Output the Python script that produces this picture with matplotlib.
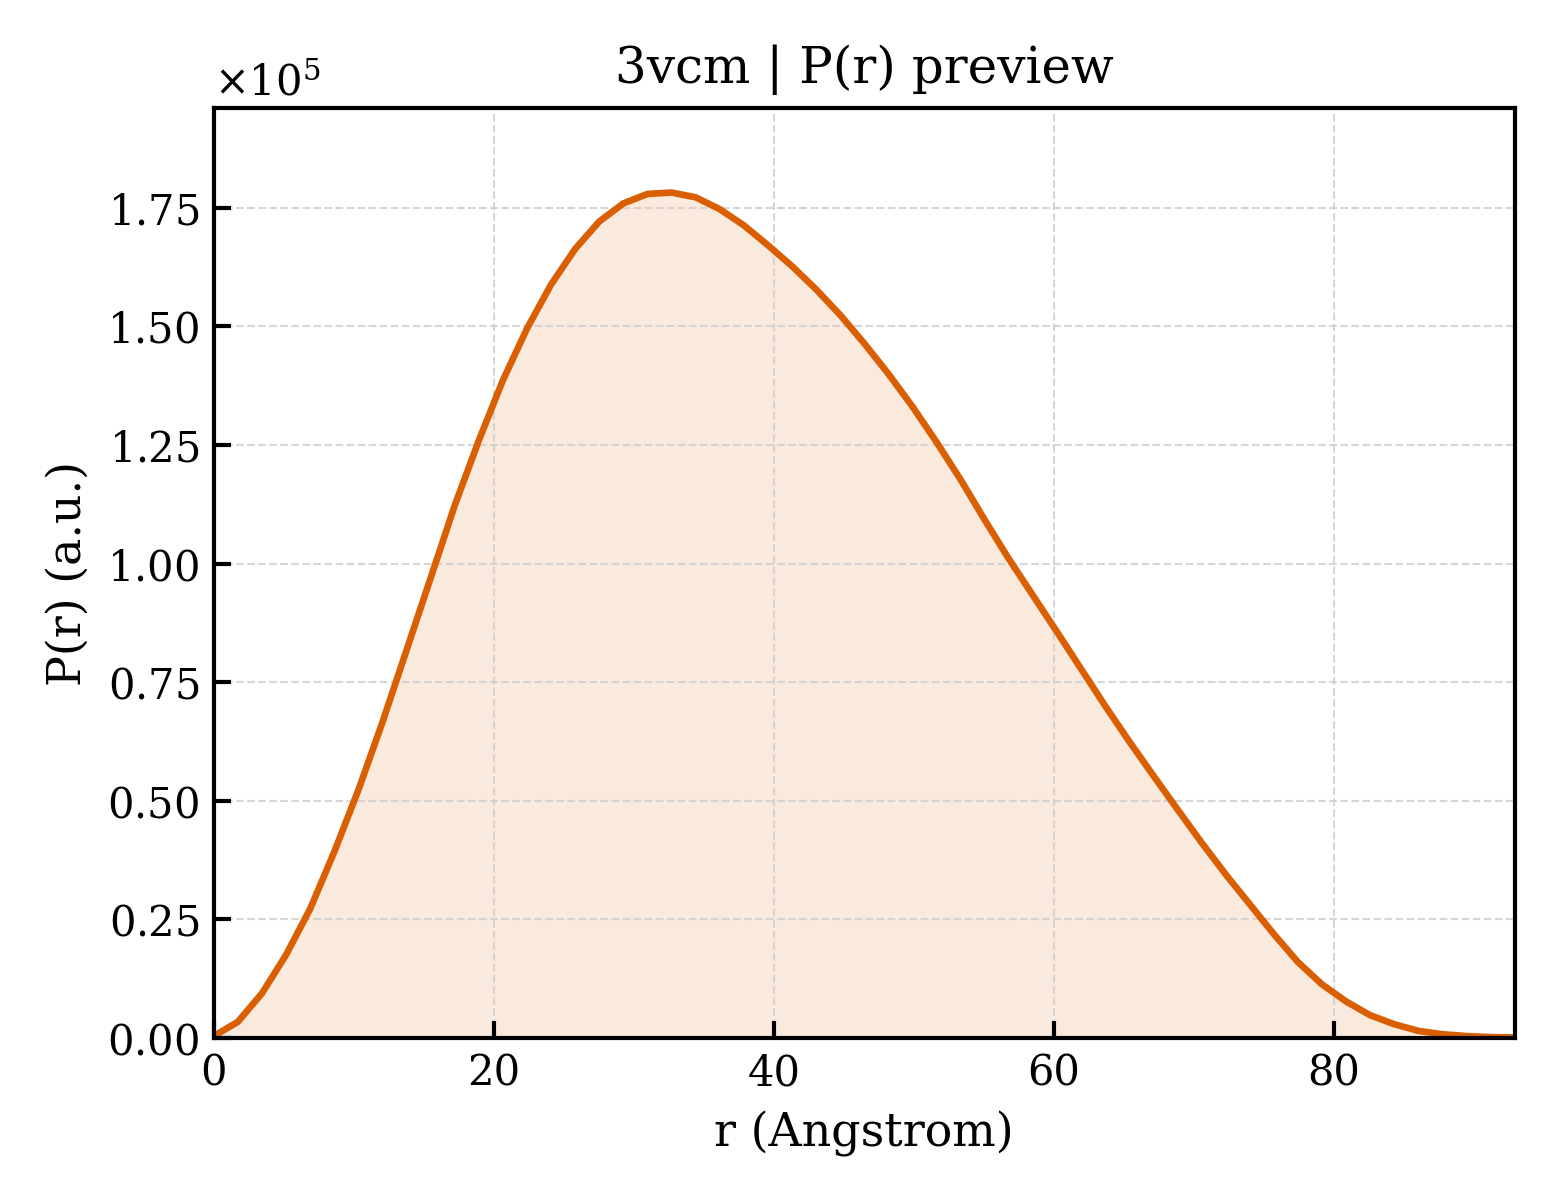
import numpy as np
import matplotlib
matplotlib.use("Agg")
import matplotlib.pyplot as plt

plt.rcParams["font.family"] = "DejaVu Serif"
plt.rcParams["mathtext.fontset"] = "dejavuserif"

# P(r) curve (units of 1e5)
r_max = 92.9
p_r = [
    0.004, 0.034, 0.094, 0.175, 0.272, 0.392, 0.522, 0.665, 0.817, 0.969,
    1.122, 1.259, 1.386, 1.495, 1.588, 1.663, 1.721, 1.759, 1.779, 1.782,
    1.772, 1.747, 1.713, 1.671, 1.627, 1.578, 1.524, 1.464, 1.400, 1.331,
    1.256, 1.177, 1.092, 1.010, 0.933, 0.856, 0.778, 0.700, 0.625, 0.553,
    0.482, 0.412, 0.345, 0.282, 0.219, 0.160, 0.113, 0.077, 0.048, 0.029,
    0.015, 0.008, 0.004, 0.002, 0.001,
]
r = np.linspace(0, r_max, len(p_r))
p = np.array(p_r) * 1e5

line_color = "#D95F02"

fig, ax = plt.subplots(figsize=(5.2, 4), dpi=300)
fig.subplots_adjust(left=0.137, right=0.971, bottom=0.135, top=0.91)

ax.fill_between(r, p, 0, color=line_color, alpha=0.13, linewidth=0)
ax.plot(r, p, color=line_color, linewidth=1.6)

ax.set_xlim(0, r_max)
ax.set_ylim(0, p.max() * 1.1)
ax.set_xticks([0, 20, 40, 60, 80])
ax.set_yticks(np.arange(0, 1.76e5, 0.25e5))
ax.ticklabel_format(axis="y", style="sci", scilimits=(0, 0), useMathText=True)
ax.yaxis.get_offset_text().set_fontsize(10)

ax.tick_params(direction="in", labelsize=10, length=4, width=1)
for s in ax.spines.values():
    s.set_linewidth(1.0)
ax.grid(True, linestyle="--", linewidth=0.5, color="#cccccc", alpha=0.8)

ax.set_xlabel("r (Angstrom)", fontsize=11)
ax.set_ylabel("P(r) (a.u.)", fontsize=11)
ax.set_title("3vcm | P(r) preview", fontsize=12)

fig.savefig("out.png", dpi=300)
